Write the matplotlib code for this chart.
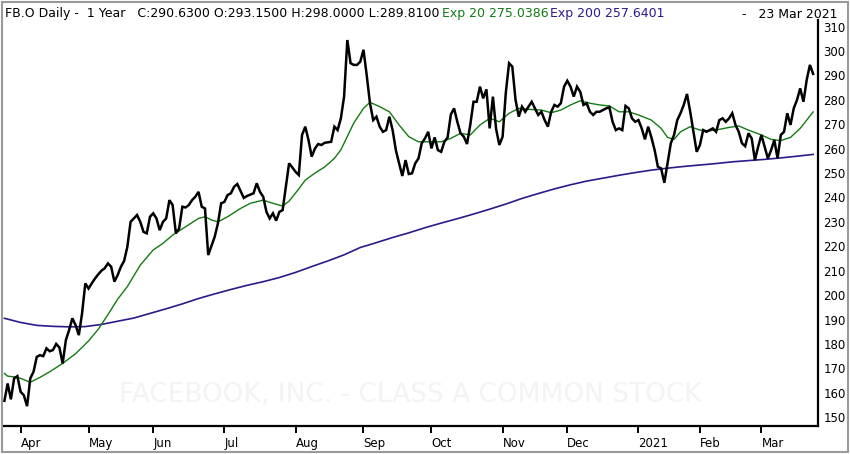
import matplotlib
matplotlib.use("Agg")
import matplotlib.pyplot as plt
from matplotlib.patches import Rectangle

# trading-day index, 0 = 1 Apr 2020
month_labels = ["Apr", "May", "Jun", "Jul", "Aug", "Sep", "Oct", "Nov", "Dec", "2021", "Feb", "Mar"]
month_idx = [0, 21, 41, 63, 85, 106, 127, 149, 169, 191, 210, 229]

close_day = [-5, -4, -3, -2, -1, 0, 1, 2, 3, 4, 5, 6, 7, 8, 9, 10, 11, 12, 13, 14, 15, 16, 17, 18, 19,
             20, 21, 22, 23, 24, 25, 26, 27, 28, 29, 30, 31, 32, 33, 34, 35, 36, 37, 38, 39, 40, 41, 42,
             43, 44, 45, 46, 47, 48, 49, 50, 51, 52, 53, 54, 55, 56, 57, 58, 60, 61, 62, 63, 64, 65, 66,
             67, 69, 70, 72, 73, 74, 75, 76, 77, 78, 79, 80, 81, 83, 84, 85, 86, 87, 88, 89, 90, 91, 92,
             93, 94, 96, 97, 98, 99, 100, 101, 102, 103, 104, 105, 106, 107, 108, 109, 110, 111, 112,
             113, 114, 115, 116, 117, 118, 119, 120, 121, 122, 123, 124, 125, 126, 127, 128, 129, 130,
             131, 132, 133, 134, 135, 136, 137, 138, 139, 140, 141, 142, 143, 144, 145, 146, 147, 148,
             149, 150, 151, 152, 153, 154, 155, 156, 157, 158, 159, 160, 161, 162, 163, 164, 165, 166,
             167, 168, 169, 170, 171, 172, 173, 174, 175, 176, 177, 178, 179, 180, 181, 182, 183, 184,
             185, 186, 187, 188, 189, 190, 191, 192, 193, 194, 195, 196, 197, 198, 199, 200, 201, 202,
             203, 204, 205, 206, 207, 208, 209, 210, 211, 212, 213, 214, 215, 216, 217, 218, 219, 220,
             221, 222, 223, 224, 225, 226, 227, 228, 229, 230, 231, 232, 233, 234, 235, 236, 237, 238,
             239, 240, 241, 242, 243, 244, 245]
close_px = [156.7, 163.8, 157.3, 165.9, 166.8, 160.4, 159.0, 154.5, 165.9, 168.6, 174.7, 175.4, 175.0,
            178.2, 177.0, 177.5, 180.0, 178.5, 172.0, 181.6, 185.7, 190.5, 187.7, 183.6, 192.5, 204.8,
            202.7, 204.8, 206.8, 208.5, 210.0, 211.0, 213.0, 211.6, 205.5, 208.2, 211.6, 214.0, 219.8,
            230.0, 231.4, 232.8, 230.0, 225.9, 225.3, 232.1, 233.5, 231.4, 226.6, 230.0, 231.4, 238.9,
            236.9, 225.3, 227.3, 236.2, 235.9, 236.9, 238.9, 240.3, 242.3, 236.2, 235.5, 216.4, 223.9,
            229.4, 237.6, 238.2, 241.0, 241.7, 244.4, 245.5, 239.8, 240.6, 241.7, 245.8, 242.3, 240.3,
            234.1, 231.4, 233.5, 230.5, 234.1, 234.8, 254.0, 252.3, 250.5, 249.2, 265.6, 269.0, 263.5,
            256.7, 260.1, 261.9, 261.5, 262.4, 262.8, 269.0, 267.6, 272.4, 281.3, 304.5, 295.0, 294.3,
            294.3, 295.6, 300.5, 290.0, 278.6, 271.7, 273.1, 269.0, 266.9, 267.6, 273.1, 267.6, 259.4,
            254.0, 248.8, 255.3, 249.6, 249.9, 254.0, 256.0, 262.2, 264.2, 266.9, 260.1, 264.6, 259.4,
            258.7, 262.8, 264.6, 274.0, 276.5, 271.0, 266.3, 264.9, 261.9, 269.7, 279.2, 279.2, 285.4,
            280.6, 284.3, 268.3, 281.3, 268.0, 261.5, 264.9, 283.0, 295.0, 293.6, 280.0, 273.1, 277.2,
            275.1, 277.2, 279.2, 276.5, 273.8, 275.1, 271.7, 269.0, 275.0, 277.9, 277.2, 278.6, 285.4,
            287.8, 285.4, 281.3, 285.4, 283.3, 277.9, 278.6, 275.1, 273.8, 275.1, 275.1, 275.8, 276.5,
            277.0, 271.0, 267.6, 268.3, 267.6, 277.5, 276.5, 272.4, 271.0, 271.7, 268.3, 263.8, 269.0,
            264.6, 259.4, 252.6, 251.9, 246.0, 254.0, 262.2, 265.6, 271.7, 274.5, 277.9, 282.4, 275.1,
            266.9, 258.7, 261.5, 267.6, 266.9, 267.6, 268.3, 266.9, 271.7, 272.4, 271.0, 272.4, 274.5,
            269.7, 266.9, 262.2, 261.0, 266.3, 264.2, 255.3, 260.8, 265.6, 260.8, 256.0, 259.4, 263.5,
            256.0, 265.6, 266.9, 274.5, 269.7, 276.5, 279.9, 284.7, 279.2, 288.1, 294.3, 290.63]

ema20_day = [-5, -4, -2, 0, 3, 6, 9, 13, 17, 21, 24, 27, 30, 33, 37, 41, 44, 47, 51, 55, 57, 59, 61, 64,
             68, 71, 75, 78, 81, 83, 86, 88, 91, 94, 97, 99, 101, 103, 106, 108, 111, 114, 117, 120,
             123, 127, 130, 133, 136, 139, 142, 145, 148, 151, 154, 157, 161, 164, 167, 170, 173, 176,
             179, 182, 185, 188, 191, 195, 198, 200, 202, 204, 207, 210, 213, 216, 219, 222, 225, 229,
             232, 235, 238, 241, 245]
ema20_val = [167.9, 166.8, 166.5, 165.9, 164.3, 166.3, 168.6, 172.0, 176.0, 181.2, 186.0, 192.0, 198.3,
             203.5, 212.3, 218.5, 221.2, 224.6, 228.0, 231.4, 232.1, 230.8, 230.0, 232.1, 235.5, 237.6,
             238.9, 237.6, 236.5, 238.5, 243.5, 247.1, 250.0, 252.5, 256.0, 259.5, 265.0, 270.5, 276.5,
             279.0, 277.2, 275.1, 269.7, 264.9, 262.8, 262.8, 262.8, 264.2, 266.3, 265.6, 269.7, 272.4,
             271.0, 274.5, 276.5, 276.1, 275.8, 274.7, 275.8, 277.9, 279.6, 278.6, 277.9, 277.5, 275.1,
             275.1, 273.8, 271.7, 268.3, 264.6, 263.8, 266.9, 269.0, 267.6, 267.3, 267.9, 268.7, 269.3,
             267.6, 265.6, 263.8, 263.3, 264.6, 268.3, 275.04]

ema200_day = [-5, 0, 5, 10, 15, 20, 25, 30, 35, 40, 45, 50, 55, 60, 65, 70, 75, 80, 85, 90, 95, 100,
              105, 110, 115, 120, 125, 130, 135, 140, 145, 150, 155, 160, 165, 170, 175, 180, 185, 190,
              195, 200, 205, 210, 215, 220, 225, 230, 235, 240, 245]
ema200_val = [190.5, 188.8, 187.6, 187.2, 187.0, 187.1, 188.0, 189.3, 190.6, 192.5, 194.4, 196.4, 198.6,
              200.5, 202.3, 204.0, 205.5, 207.2, 209.3, 211.7, 214.0, 216.5, 219.5, 221.5, 223.6, 225.5,
              227.6, 229.5, 231.3, 233.2, 235.2, 237.3, 239.6, 241.6, 243.5, 245.2, 246.7, 247.9, 249.1,
              250.2, 251.2, 252.0, 252.7, 253.3, 253.9, 254.6, 255.1, 255.6, 256.2, 256.9, 257.64]

y_ticks = list(range(150, 311, 10))

GREEN = "#137a13"
NAVY = "#2c1a8a"
W, H = 850, 454

fig = plt.figure(figsize=(W / 100, H / 100), dpi=100)
ax = fig.add_axes([3 / W, 28.3 / H, 815 / W, 405.7 / H])

ax.text(120.4, 159.0, "FACEBOOK, INC. - CLASS A COMMON STOCK", ha="center", va="center",
        fontsize=19, color="#f3f3f3", zorder=0,
        family=["Liberation Sans Narrow", "DejaVu Sans"])

ax.plot(ema200_day, ema200_val, color=NAVY, lw=1.2, zorder=2)
ax.plot(ema20_day, ema20_val, color=GREEN, lw=1.0, zorder=2)
ax.plot(close_day, close_px, color="black", lw=1.8, zorder=3, solid_joinstyle="miter")

ax.set_xlim(-5.44, 246.5)
ax.set_ylim(146.5, 312.7)

ax.yaxis.tick_right()
ax.set_yticks(y_ticks)
ax.set_yticklabels([str(v) for v in y_ticks])
ax.tick_params(axis="y", length=0, pad=4, labelsize=8.5)

ax.set_xticks(month_idx)
ax.set_xticklabels(month_labels, ha="left")
ax.tick_params(axis="x", direction="out", length=5, width=1.4, pad=3, labelsize=8.5)

for s in ["left", "top"]:
    ax.spines[s].set_visible(False)
for s in ["right", "bottom"]:
    ax.spines[s].set_linewidth(1.6)
    ax.spines[s].set_color("black")

# header line
ty = 1 - 14 / H
fig.text(5 / W, ty, "FB.O Daily -  1 Year   C:290.6300 O:293.1500 H:298.0000 L:289.8100",
         fontsize=9, va="center", ha="left")
fig.text(442 / W, ty, "Exp 20 275.0386", fontsize=9, va="center", ha="left", color=GREEN)
fig.text(550 / W, ty, "Exp 200 257.6401", fontsize=9, va="center", ha="left", color=NAVY)
fig.text(837 / W, ty, "-   23 Mar 2021", fontsize=9, va="center", ha="right")

fig.patches.append(Rectangle((2 / W, 2 / H), 846 / W, 450 / H, transform=fig.transFigure,
                             fill=False, edgecolor="#9a9a9a", lw=1.5))

fig.savefig("out.png", dpi=100)
